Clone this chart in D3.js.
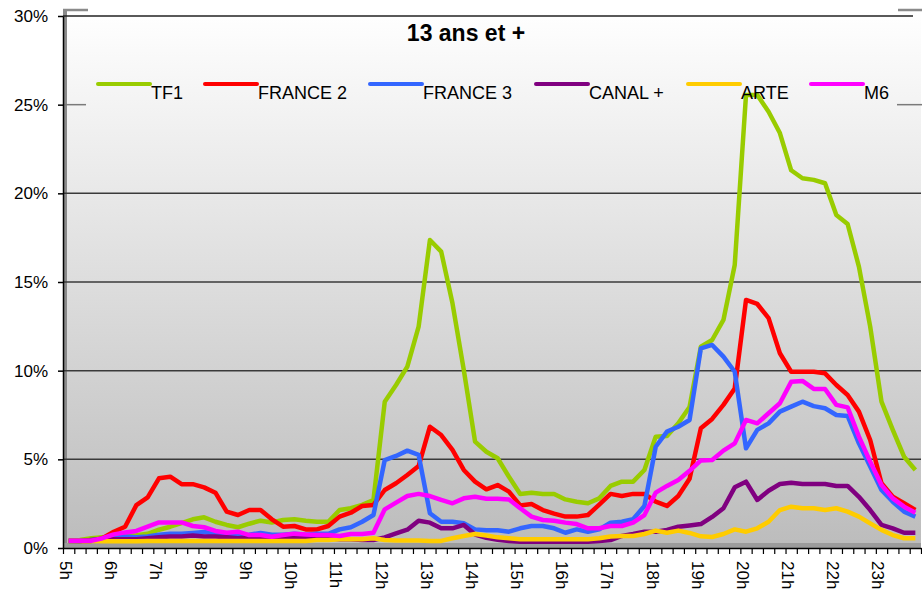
<!DOCTYPE html>
<html>
<head>
<meta charset="utf-8">
<script src="https://cdn.jsdelivr.net/npm/d3@7"></script>
<style>
  body { margin: 0; background: #fff; }
  svg { display: block; font-family: "Liberation Sans", Arial, sans-serif; }
</style>
</head>
<body>
<div id="chart"></div>
<script>
// quarter-hour slots from 5h00 to 23h45
const hourLabels = ['5h','6h','7h','8h','9h','10h','11h','12h','13h','14h','15h','16h','17h','18h','19h','20h','21h','22h','23h'];
const seriesNames = ['TF1', 'FRANCE 2', 'FRANCE 3', 'CANAL +', 'ARTE', 'M6'];
const seriesColors = ['#99cc00', '#ff0000', '#3366ff', '#800080', '#ffcc00', '#ff00ff'];

const tf1 = [0.4,0.45,0.55,0.6,0.6,0.66,0.72,0.8,1.03,1.2, 1.4,1.62,1.73,1.48,1.3,1.17,1.37,1.54,1.44,1.58,
  1.62,1.54,1.48,1.48,2.14,2.24,2.43,2.71,8.25,9.19, 10.23,12.48,17.37,16.71,13.8,10.04,6.0,5.43,5.06,4.02,
  3.05,3.12,3.05,3.05,2.74,2.61,2.52,2.8,3.5,3.74, 3.74,4.4,6.28,6.32,7.03,7.95,11.35,11.73,12.86,15.96,
  25.55,25.55,24.6,23.4,21.3,20.85,20.76,20.57,18.78,18.27, 15.87,12.48,8.25,6.66,5.15,4.4];
const france2 = [0.41,0.4,0.4,0.55,0.92,1.2,2.42,2.86,3.93,4.02, 3.6,3.6,3.42,3.12,2.05,1.86,2.14,2.14,1.62,1.2,
  1.24,1.05,1.05,1.24,1.77,1.99,2.37,2.43,3.27,3.65, 4.12,4.62,6.84,6.37,5.53,4.4,3.74,3.31,3.55,3.18,
  2.4,2.48,2.14,1.94,1.77,1.77,1.86,2.45,3.05,2.93, 3.05,3.05,2.61,2.37,2.93,3.9,6.75,7.28,8.07,9.0,
  13.99,13.76,12.96,10.98,9.94,9.94,9.94,9.85,9.19,8.63, 7.69,6.09,3.65,2.89,2.52,2.14];
const france3 = [0.4,0.4,0.45,0.5,0.6,0.65,0.6,0.65,0.75,0.8, 0.8,0.85,0.9,0.8,0.75,0.7,0.75,0.85,0.75,0.75,
  0.8,0.75,0.8,0.8,1.05,1.17,1.48,1.86,4.96,5.19, 5.49,5.25,1.96,1.48,1.48,1.39,1.05,1.0,1.0,0.92,
  1.11,1.24,1.24,1.11,0.86,1.05,0.92,1.05,1.43,1.48, 1.62,2.37,5.71,6.56,6.84,7.22,11.26,11.45,10.79,9.94,
  5.62,6.66,7.03,7.69,7.97,8.25,8.0,7.88,7.5,7.45, 5.9,4.59,3.27,2.61,2.05,1.77];
const canal = [0.4,0.4,0.45,0.5,0.5,0.5,0.5,0.55,0.6,0.65, 0.65,0.7,0.65,0.65,0.6,0.55,0.6,0.6,0.55,0.6,
  0.65,0.6,0.6,0.55,0.5,0.5,0.45,0.45,0.6,0.82, 1.03,1.54,1.43,1.11,1.11,1.3,0.76,0.58,0.47,0.4,
  0.35,0.35,0.35,0.35,0.35,0.35,0.35,0.4,0.45,0.68, 0.79,0.92,0.92,1.02,1.2,1.27,1.35,1.75,2.24,3.42,
  3.74,2.71,3.23,3.61,3.68,3.61,3.61,3.61,3.5,3.5, 2.89,2.14,1.3,1.11,0.86,0.86];
const arte = [0.4,0.4,0.4,0.38,0.38,0.38,0.38,0.4,0.4,0.4, 0.4,0.4,0.4,0.4,0.4,0.4,0.4,0.4,0.4,0.4,
  0.4,0.4,0.45,0.45,0.5,0.5,0.5,0.55,0.45,0.42, 0.42,0.42,0.4,0.4,0.55,0.68,0.79,0.7,0.6,0.55,
  0.5,0.5,0.5,0.5,0.5,0.5,0.5,0.55,0.65,0.68, 0.68,0.79,0.98,0.86,0.98,0.85,0.66,0.62,0.79,1.05,
  0.92,1.11,1.48,2.14,2.33,2.24,2.24,2.14,2.24,2.05, 1.77,1.39,1.02,0.73,0.55,0.55];
const m6 = [0.41,0.41,0.41,0.55,0.77,0.88,0.96,1.2,1.44,1.44, 1.44,1.24,1.17,0.96,0.86,0.92,0.73,0.73,0.64,0.73,
  0.81,0.76,0.73,0.73,0.68,0.79,0.79,0.86,2.18,2.56, 2.93,3.05,2.93,2.71,2.52,2.8,2.89,2.78,2.78,2.74,
  2.24,1.77,1.58,1.54,1.43,1.35,1.11,1.11,1.24,1.24, 1.43,1.86,3.12,3.5,3.84,4.35,4.94,4.96,5.49,5.9,
  7.22,7.03,7.6,8.16,9.37,9.42,8.97,8.97,8.07,7.93, 6.28,4.87,3.55,2.8,2.33,1.99];

const yTicks = [0, 5, 10, 15, 20, 25, 30];

const series = [tf1, france2, france3, canal, arte, m6].map((values, i) => ({
  name: seriesNames[i], color: seriesColors[i], values
}));

const width = 922, height = 596;
const plotLeft = 63, plotRight = 921, plotTop = 16, plotBottom = 548;
const slots = tf1.length;

const x = d3.scaleLinear().domain([0, slots]).range([plotLeft, plotRight]);
const y = d3.scaleLinear().domain([0, 30]).range([plotBottom, plotTop]);

const svg = d3.select('#chart').append('svg')
  .attr('width', width)
  .attr('height', height);

/* background wall */
const grad = svg.append('defs').append('linearGradient')
  .attr('id', 'wall')
  .attr('x1', 0).attr('y1', 0).attr('x2', 0).attr('y2', 1);
grad.append('stop').attr('offset', '0%').attr('stop-color', '#ffffff');
grad.append('stop').attr('offset', '100%').attr('stop-color', '#bcbcbc');

svg.append('rect')
  .attr('x', plotLeft).attr('y', 10)
  .attr('width', plotRight - plotLeft).attr('height', plotBottom - 10)
  .attr('fill', 'url(#wall)');

// wall edges (3D look)
svg.append('rect')
  .attr('x', plotLeft).attr('y', 10)
  .attr('width', 4).attr('height', plotBottom - 10)
  .attr('fill', '#8a8a8a');
svg.append('rect')
  .attr('x', plotLeft).attr('y', plotBottom - 5)
  .attr('width', plotRight - plotLeft).attr('height', 5)
  .attr('fill', '#9c9c9c');
svg.append('line')
  .attr('x1', plotLeft).attr('x2', 88).attr('y1', 10).attr('y2', 10)
  .attr('stroke', '#8a8a8a').attr('stroke-width', 2.5);
svg.append('line')
  .attr('x1', 898).attr('x2', width).attr('y1', 10).attr('y2', 10)
  .attr('stroke', '#8a8a8a').attr('stroke-width', 2.5);

/* gridlines */
svg.append('g')
  .selectAll('line')
  .data(yTicks.filter(d => d > 0 && d < 25)).enter()
  .append('line')
  .attr('x1', plotLeft).attr('x2', plotRight)
  .attr('y1', d => y(d)).attr('y2', d => y(d))
  .attr('stroke', '#3a3a3a').attr('stroke-width', 1.5);

// 25% line is hidden behind the legend, only the ends show
[[plotLeft, 86], [897, width]].forEach(([a, b]) => {
  svg.append('line')
    .attr('x1', a).attr('x2', b)
    .attr('y1', y(25)).attr('y2', y(25))
    .attr('stroke', '#7a7a7a').attr('stroke-width', 1.5);
});

svg.append('line')
  .attr('x1', plotLeft).attr('x2', 913)
  .attr('y1', y(30)).attr('y2', y(30))
  .attr('stroke', '#222').attr('stroke-width', 1.5);

/* axes */
const yAxis = d3.axisLeft(y)
  .tickValues(yTicks)
  .tickFormat(d => d + '%')
  .tickSizeInner(5)
  .tickSizeOuter(0)
  .tickPadding(10);

svg.append('g')
  .attr('transform', `translate(${plotLeft}, 0)`)
  .call(yAxis)
  .call(g => {
    g.select('.domain').attr('stroke', '#000').attr('stroke-width', 1.5);
    g.selectAll('.tick line').attr('stroke', '#000').attr('stroke-width', 1.5);
    g.selectAll('.tick text')
      .attr('fill', '#000')
      .style('font-size', '17px')
      .style('font-family', '"Liberation Sans", Arial, sans-serif');
  });

const xAxis = d3.axisBottom(x)
  .tickValues(d3.range(0, slots + 1))
  .tickFormat(d => (d % 4 === 0 && d / 4 < hourLabels.length) ? hourLabels[d / 4] : '')
  .tickSizeInner(6)
  .tickSizeOuter(0)
  .tickPadding(0);

svg.append('g')
  .attr('transform', `translate(0, ${plotBottom})`)
  .call(xAxis)
  .call(g => {
    g.select('.domain').attr('stroke', '#000').attr('stroke-width', 1.5);
    g.selectAll('.tick line').attr('stroke', '#000').attr('stroke-width', 1.2);
    g.selectAll('.tick text')
      .attr('fill', '#000')
      .attr('text-anchor', 'start')
      .attr('transform', 'translate(2, 13) rotate(90)')
      .attr('y', 0)
      .attr('x', 0)
      .attr('dy', '0.35em')
      .style('font-size', '17px')
      .style('font-family', '"Liberation Sans", Arial, sans-serif');
  });

/* lines */
const line = d3.line()
  .x((d, i) => x(i + 0.5))
  .y(d => y(d));

svg.append('g')
  .selectAll('path')
  .data(series).enter()
  .append('path')
  .attr('d', d => line(d.values))
  .attr('fill', 'none')
  .attr('stroke', d => d.color)
  .attr('stroke-width', 4.5)
  .attr('stroke-linejoin', 'round');

/* title */
svg.append('text')
  .attr('x', 466)
  .attr('y', 41)
  .attr('text-anchor', 'middle')
  .style('font-size', '23px')
  .style('font-weight', 'bold')
  .text('13 ans et +');

/* legend */
const legendX = [98, 205, 370, 536, 688, 811];
const legend = svg.append('g')
  .selectAll('g')
  .data(series).enter()
  .append('g')
  .attr('transform', (d, i) => `translate(${legendX[i]}, 84)`);

legend.append('line')
  .attr('x1', 0).attr('x2', 52)
  .attr('y1', 0).attr('y2', 0)
  .attr('stroke', d => d.color)
  .attr('stroke-width', 4)
  .attr('stroke-linecap', 'round');

legend.append('text')
  .attr('x', 53)
  .attr('y', 15)
  .style('font-size', '18px')
  .text(d => d.name);
</script>
</body>
</html>
